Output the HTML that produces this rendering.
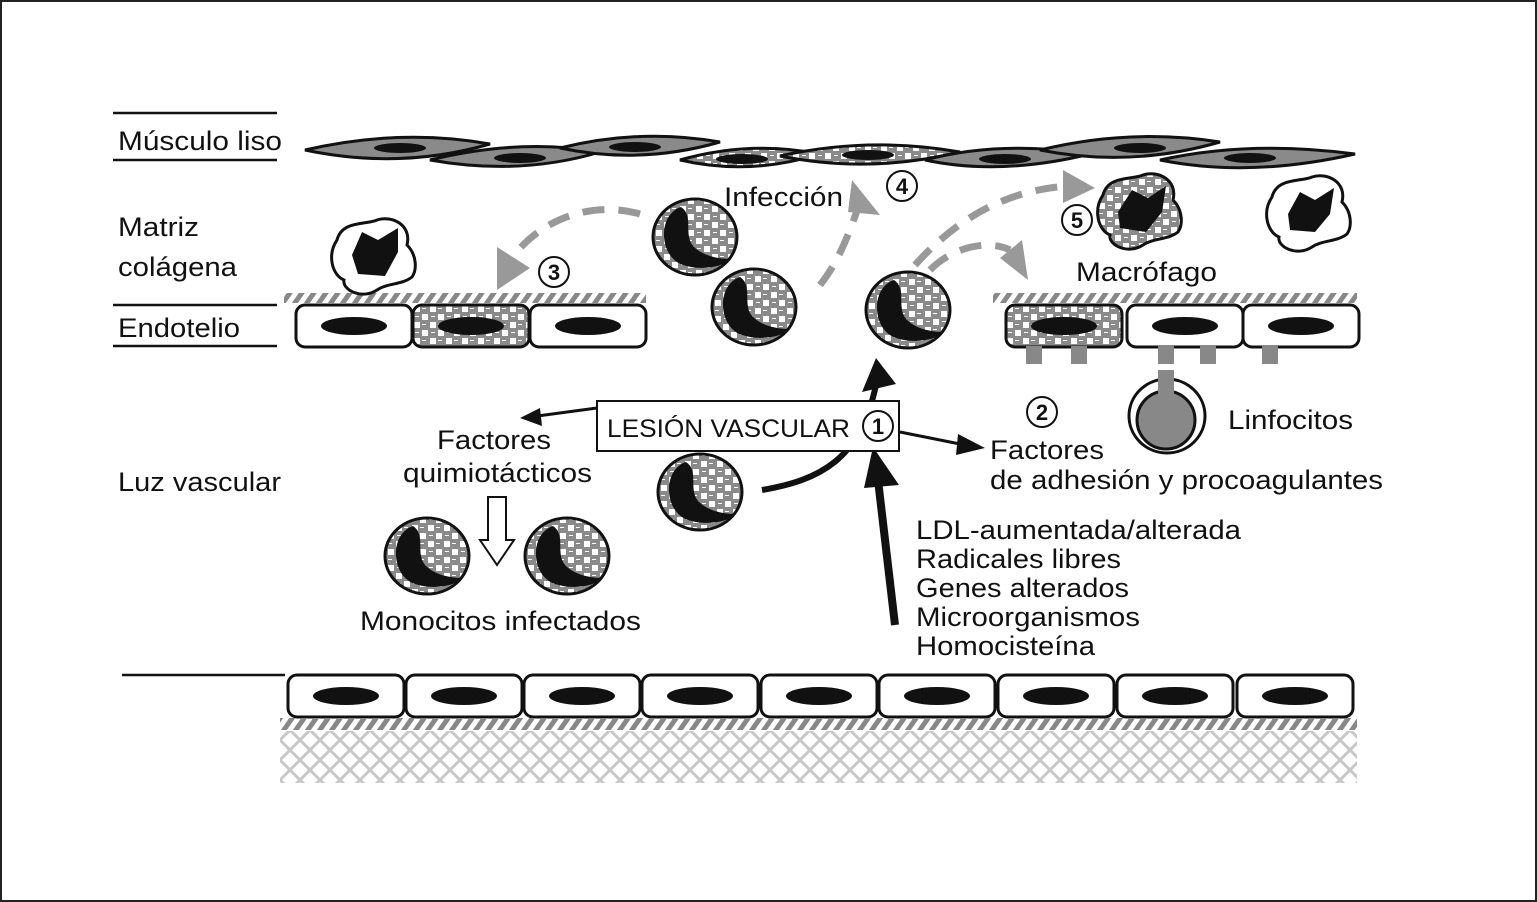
<!DOCTYPE html>
<html><head><meta charset="utf-8"><style>
html,body{margin:0;padding:0;background:#fff}
svg{display:block}
text{font-family:"Liberation Sans",Arial,sans-serif;fill:#111}
</style></head><body>
<svg width="1537" height="902" viewBox="0 0 1537 902" xmlns="http://www.w3.org/2000/svg">
<defs>
<pattern id="chk" width="16" height="16" patternUnits="userSpaceOnUse">
<rect width="16" height="16" fill="#8a8a8a"/>
<rect x="1" y="1" width="6" height="6" fill="#fff"/>
<rect x="9" y="9" width="6" height="6" fill="#fff"/>
<rect x="9" y="3" width="4" height="1" fill="#fff"/>
<rect x="2" y="11" width="4" height="1" fill="#fff"/>
</pattern>
<pattern id="hatch" width="12" height="12" patternUnits="userSpaceOnUse" patternTransform="skewX(-35)">
<rect width="6" height="12" fill="#888"/>
</pattern>
<pattern id="xh" width="20" height="20" patternUnits="userSpaceOnUse">
<path d="M0 0 L20 20 M20 0 L0 20" stroke="#c8c8c8" stroke-width="3"/>
</pattern>
<g id="mono">
<ellipse cx="0" cy="0" rx="42" ry="38" fill="url(#chk)" stroke="#111" stroke-width="3"/>
<path d="M-14 -30 C-38 -22 -36 20 -12 28 C6 34 28 30 36 22 C18 22 2 16 -4 6 C-10 -6 -2 -22 -14 -30z" fill="#111"/>
</g>
<g id="cell">
<rect x="0" y="0" width="116" height="42" rx="9" fill="#fff" stroke="#111" stroke-width="3"/>
<ellipse cx="58" cy="21" rx="33" ry="9" fill="#111"/>
</g>
<g id="cellc">
<rect x="0" y="0" width="116" height="42" rx="9" fill="url(#chk)" stroke="#111" stroke-width="3"/>
<ellipse cx="58" cy="21" rx="33" ry="9" fill="#111"/>
</g>
<path id="mac" d="M-35 -15 C-30 -35 -5 -30 5 -35 C20 -40 40 -30 35 -10 C45 0 45 15 40 22 C30 30 15 28 5 35 C-10 45 -30 35 -28 25 C-40 20 -45 0 -35 -15z"/>
</defs>
<rect x="1" y="1" width="1535" height="900" fill="#fff" stroke="#222" stroke-width="2"/>

<g stroke="#111" stroke-width="2.5">
<line x1="113" y1="113" x2="277" y2="113"/><line x1="113" y1="160" x2="277" y2="160"/>
<line x1="113" y1="305" x2="277" y2="305"/><line x1="113" y1="346" x2="277" y2="346"/>
<line x1="122" y1="675" x2="285" y2="675"/>
</g>
<g font-size="27">
<text x="118" y="150" textLength="164" lengthAdjust="spacingAndGlyphs">Músculo liso</text>
<text x="118" y="236" textLength="81" lengthAdjust="spacingAndGlyphs">Matriz</text>
<text x="118" y="276" textLength="119" lengthAdjust="spacingAndGlyphs">colágena</text>
<text x="118" y="337" textLength="122" lengthAdjust="spacingAndGlyphs">Endotelio</text>
<text x="118" y="491" textLength="163" lengthAdjust="spacingAndGlyphs">Luz vascular</text>
</g>

<g stroke="#111" stroke-width="3">
<path d="M305 150 Q400 128 490 144 Q400 170 305 150z" fill="#8a8a8a"/>
<path d="M430 160 Q520 138 600 152 Q520 176 430 160z" fill="#8a8a8a"/>
<path d="M560 148 Q640 128 720 142 Q640 165 560 148z" fill="#8a8a8a"/>
<path d="M680 160 Q750 140 820 154 Q750 176 680 160z" fill="url(#chk)"/>
<path d="M780 156 Q870 136 960 152 Q870 174 780 156z" fill="url(#chk)"/>
<path d="M925 160 Q1000 140 1090 154 Q1000 176 925 160z" fill="#8a8a8a"/>
<path d="M1040 150 Q1130 128 1220 142 Q1130 168 1040 150z" fill="#8a8a8a"/>
<path d="M1160 160 Q1250 140 1355 154 Q1250 178 1160 160z" fill="#8a8a8a"/>
</g>
<g fill="#111">
<ellipse cx="400" cy="148" rx="26" ry="5"/><ellipse cx="520" cy="158" rx="26" ry="5"/>
<ellipse cx="635" cy="147" rx="26" ry="5"/><ellipse cx="742" cy="159" rx="26" ry="5"/>
<ellipse cx="868" cy="155" rx="26" ry="5"/><ellipse cx="1005" cy="159" rx="26" ry="5"/>
<ellipse cx="1140" cy="148" rx="26" ry="5"/><ellipse cx="1250" cy="158" rx="26" ry="5"/>
</g>

<rect x="284" y="293" width="362" height="10" fill="url(#hatch)"/>
<use href="#cell" x="296" y="305"/><use href="#cellc" x="413" y="305"/><use href="#cell" x="530" y="305"/>
<rect x="993" y="293" width="364" height="10" fill="url(#hatch)"/>
<use href="#cellc" x="1006" y="305"/><use href="#cell" x="1127" y="305"/><use href="#cell" x="1243" y="305"/>
<g fill="#888">
<rect x="1026" y="346" width="16" height="18"/><rect x="1071" y="346" width="16" height="18"/>
<rect x="1158" y="346" width="16" height="18"/><rect x="1200" y="346" width="16" height="18"/>
<rect x="1262" y="346" width="16" height="18"/>
</g>
<ellipse cx="1167" cy="416" rx="38" ry="37" fill="#fff" stroke="#111" stroke-width="3"/>
<circle cx="1166" cy="420" r="29" fill="#888" stroke="#111" stroke-width="3"/>
<rect x="1158" y="370" width="16" height="26" fill="#888"/>

<use href="#mac" x="372" y="255" fill="#fff" stroke="#111" stroke-width="3"/>
<path d="M352 255 L362 232 L378 240 L398 228 L398 252 L385 276 L358 274z" fill="#111"/>
<use href="#mac" x="1138" y="210" fill="url(#chk)" stroke="#111" stroke-width="3"/>
<path d="M1118 212 L1132 190 L1148 198 L1166 186 L1162 212 L1146 232 L1120 228z" fill="#111"/>
<use href="#mac" x="1307" y="212" fill="#fff" stroke="#111" stroke-width="3"/>
<path d="M1288 214 L1300 192 L1315 200 L1334 188 L1330 214 L1315 232 L1290 230z" fill="#111"/>

<use href="#mono" x="695" y="237"/><use href="#mono" x="754" y="307"/><use href="#mono" x="908" y="310"/>
<use href="#mono" x="700" y="492"/><use href="#mono" x="427" y="556"/><use href="#mono" x="567" y="556"/>

<g fill="none" stroke="#999" stroke-width="7" stroke-dasharray="22 14">
<path d="M640 214 C590 200 540 220 512 258"/>
<path d="M820 285 C840 260 850 230 858 208"/>
<path d="M915 265 C960 215 1010 190 1068 186"/>
<path d="M930 270 C955 245 990 240 1010 250"/>
</g>
<g fill="#999">
<path d="M497 247 L530 268 L497 290z"/>
<path d="M852 180 L880 215 L848 212z"/>
<path d="M1063 170 L1095 188 L1063 203z"/>
<path d="M1000 258 L1022 240 L1028 280z"/>
</g>

<g fill="#fff" stroke="#111" stroke-width="2">
<circle cx="554" cy="272" r="15"/><circle cx="902" cy="186" r="15"/><circle cx="1077" cy="220" r="15"/>
<circle cx="1042" cy="412" r="15"/>
</g>
<g font-size="22" font-weight="bold" text-anchor="middle">
<text x="554" y="280">3</text><text x="902" y="194">4</text><text x="1077" y="228">5</text><text x="1042" y="420">2</text>
</g>

<path d="M762 490 C820 480 860 460 876 385" fill="none" stroke="#111" stroke-width="6"/>
<path d="M862 392 L876 358 L896 384z" fill="#111"/>
<line x1="895" y1="625" x2="878" y2="480" stroke="#111" stroke-width="8"/>
<path d="M864 488 L873 447 L899 485z" fill="#111"/>
<line x1="597" y1="408" x2="530" y2="417" stroke="#111" stroke-width="3"/>
<path d="M520 418 L540 408 L542 426z" fill="#111"/>
<line x1="900" y1="432" x2="965" y2="445" stroke="#111" stroke-width="3"/>
<path d="M985 448 L958 434 L956 455z" fill="#111"/>
<path d="M488 497 L506 497 L506 540 L514 540 L497 565 L480 540 L488 540z" fill="#fff" stroke="#111" stroke-width="2"/>

<rect x="597" y="401" width="302" height="50" fill="#fff" stroke="#111" stroke-width="2"/>
<text x="607" y="437" font-size="25" textLength="243" lengthAdjust="spacingAndGlyphs">LESIÓN VASCULAR</text>
<circle cx="878" cy="426" r="15" fill="#fff" stroke="#111" stroke-width="2"/>
<text x="878" y="434" font-size="22" font-weight="bold" text-anchor="middle">1</text>

<g font-size="27">
<text x="724" y="206" textLength="119" lengthAdjust="spacingAndGlyphs">Infección</text>
<text x="1076" y="281" textLength="141" lengthAdjust="spacingAndGlyphs">Macrófago</text>
<text x="1228" y="429" textLength="125" lengthAdjust="spacingAndGlyphs">Linfocitos</text>
<text x="437" y="449" textLength="114" lengthAdjust="spacingAndGlyphs">Factores</text>
<text x="403" y="482" textLength="189" lengthAdjust="spacingAndGlyphs">quimiotácticos</text>
<text x="360" y="630" textLength="281" lengthAdjust="spacingAndGlyphs">Monocitos infectados</text>
<text x="990" y="459" textLength="114" lengthAdjust="spacingAndGlyphs">Factores</text>
<text x="990" y="489" textLength="393" lengthAdjust="spacingAndGlyphs">de adhesión y procoagulantes</text>
<text x="916" y="539" textLength="325" lengthAdjust="spacingAndGlyphs">LDL-aumentada/alterada</text>
<text x="916" y="568" textLength="205" lengthAdjust="spacingAndGlyphs">Radicales libres</text>
<text x="916" y="597" textLength="213" lengthAdjust="spacingAndGlyphs">Genes alterados</text>
<text x="916" y="626" textLength="224" lengthAdjust="spacingAndGlyphs">Microorganismos</text>
<text x="916" y="655" textLength="179" lengthAdjust="spacingAndGlyphs">Homocisteína</text>
</g>

<use href="#cell" x="288" y="675"/><use href="#cell" x="406" y="675"/><use href="#cell" x="524" y="675"/>
<use href="#cell" x="642" y="675"/><use href="#cell" x="761" y="675"/><use href="#cell" x="879" y="675"/>
<use href="#cell" x="998" y="675"/><use href="#cell" x="1117" y="675"/><use href="#cell" x="1237" y="675"/>
<rect x="280" y="718" width="1077" height="12" fill="url(#hatch)"/>
<rect x="280" y="731" width="1077" height="52" fill="url(#xh)"/>
</svg>
</body></html>
